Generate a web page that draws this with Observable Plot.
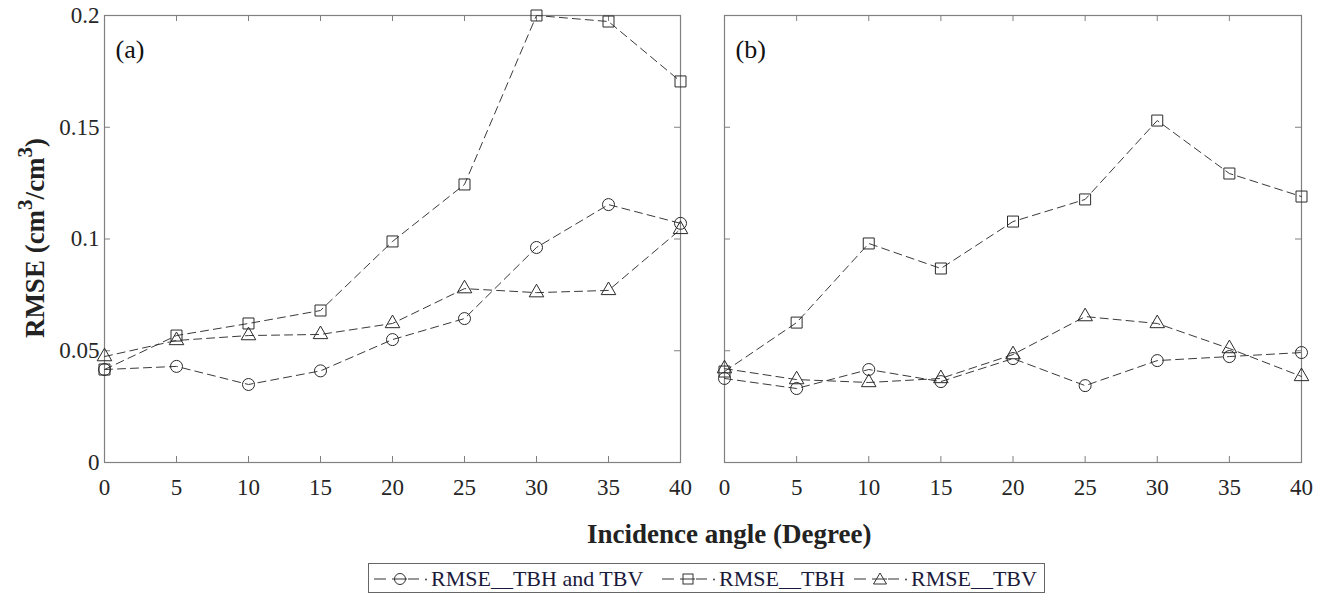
<!DOCTYPE html>
<html>
<head>
<meta charset="utf-8">
<script src="https://cdn.jsdelivr.net/npm/d3@7"></script>
<script src="https://cdn.jsdelivr.net/npm/@observablehq/plot@0.6"></script>
<style>
  html, body { margin: 0; padding: 0; background: #fff; }
  #wrap { position: relative; width: 1325px; height: 595px; overflow: hidden; font-family: "Liberation Serif", Tinos, "Times New Roman", Times, "DejaVu Serif", serif; color: #222; }
  .panel { position: absolute; top: 0; }
  .ytitle { position: absolute; left: 35px; top: 238px; transform: translate(-50%, -50%) rotate(-90deg); font-weight: bold; font-size: 27px; white-space: nowrap; }
  .ytitle sup { font-size: 21px; vertical-align: 0.55em; line-height: 0; }
  .xtitle { position: absolute; left: 587px; top: 519px; font-weight: bold; font-size: 27px; white-space: nowrap; line-height: 30px; }
  .legend { position: absolute; left: 368px; top: 563px; width: 677px; height: 30px; border: 1px solid #666; box-sizing: border-box; background: #fff; }
  .entry { position: absolute; top: 0; height: 30px; }
  .entry svg { position: absolute; top: 0; left: 0; }
  .entry span { position: absolute; top: 2px; font-size: 22px; white-space: nowrap; line-height: 26px; color: #1a1a3a; }
</style>
</head>
<body>
<div id="wrap"></div>
<script>
// ---- data ----
const angles = [0, 5, 10, 15, 20, 25, 30, 35, 40];
const yTicks = [0, 0.05, 0.1, 0.15, 0.2];
const seriesNames = ["RMSE__TBH and TBV", "RMSE__TBH", "RMSE__TBV"];
const seriesSymbols = ["circle", "square", "triangle"];
const panelLabels = ["(a)", "(b)"];

// panel (a)
const aBoth = [0.0416, 0.0430, 0.0349, 0.0410, 0.0550, 0.0644, 0.0962, 0.1154, 0.1070];
const aTBH  = [0.0416, 0.0568, 0.0622, 0.0680, 0.0989, 0.1244, 0.2000, 0.1973, 0.1705];
const aTBV  = [0.0474, 0.0546, 0.0568, 0.0573, 0.0622, 0.0778, 0.0760, 0.0770, 0.1043];
// panel (b)
const bBoth = [0.0376, 0.0331, 0.0416, 0.0362, 0.0465, 0.0344, 0.0456, 0.0474, 0.0492];
const bTBH  = [0.0407, 0.0626, 0.0980, 0.0868, 0.1078, 0.1177, 0.1530, 0.1293, 0.1190];
const bTBV  = [0.0420, 0.0371, 0.0358, 0.0376, 0.0483, 0.0653, 0.0622, 0.0510, 0.0385];

function toRows(arrs) {
  const rows = [];
  arrs.forEach((vals, s) => vals.forEach((v, i) => rows.push({x: angles[i], y: vals[i], s})));
  return rows;
}
const panelA = toRows([aBoth, aTBH, aTBV]);
const panelB = toRows([bBoth, bTBH, bTBV]);

const symR = {circle: 6, square: 6.2, triangle: 5.4};
const lineColor = "#3a3a3a";
const axisColor = "#808080";
const dash = "8,5";
const serif = "'Liberation Serif', Tinos, 'Times New Roman', Times, 'DejaVu Serif', serif";

function panel(rows, label, opts) {
  const {width, marginLeft, marginRight, showY} = opts;
  const height = 500, marginTop = 15, marginBottom = 38;
  const innerW = width - marginLeft - marginRight;
  const innerH = height - marginTop - marginBottom;
  const marks = [
    Plot.frame({stroke: axisColor, strokeWidth: 1.2}),
    Plot.tickX(angles, {x: d => d, insetTop: innerH - 6, stroke: axisColor}),
    Plot.tickX(angles, {x: d => d, insetBottom: innerH - 6, stroke: axisColor}),
    Plot.tickY(yTicks, {y: d => d, insetRight: innerW - 6, stroke: axisColor}),
    Plot.tickY(yTicks, {y: d => d, insetLeft: innerW - 6, stroke: axisColor}),
    Plot.axisX(angles, {tickSize: 0, tickPadding: 16, label: null, tickFormat: d => String(d), fill: "#262626", fontSize: 23}),
  ];
  if (showY) marks.push(Plot.axisY(yTicks, {tickSize: 0, tickPadding: 5, label: null, tickFormat: d => String(d), fill: "#262626", fontSize: 23}));
  else marks.push(Plot.axisY(yTicks, {tickSize: 0, label: null, tickFormat: () => ""}));
  seriesSymbols.forEach((sym, s) => {
    const data = rows.filter(d => d.s === s);
    marks.push(Plot.line(data, {x: "x", y: "y", stroke: lineColor, strokeWidth: 1, strokeDasharray: dash}));
    marks.push(Plot.dot(data, {x: "x", y: "y", symbol: () => sym, r: symR[sym], stroke: "#2a2a2a", fill: "none", strokeWidth: 1}));
  });
  marks.push(Plot.text([label], {text: d => d, frameAnchor: "top-left", dx: 11, dy: 34, textAnchor: "start", lineAnchor: "middle", fontSize: 26, fill: "#111"}));
  return Plot.plot({
    width, height, marginLeft, marginRight, marginTop, marginBottom,
    x: {domain: [0, 40]},
    y: {domain: [0, 0.2]},
    symbol: {type: "identity"},
    style: {fontFamily: serif, fontSize: "22px", background: "transparent", overflow: "visible"},
    marks
  });
}

const wrap = document.getElementById("wrap");
const pa = panel(panelA, panelLabels[0], {width: 700, marginLeft: 104, marginRight: 20, showY: true});
pa.classList.add("panel"); pa.style.left = "0px";
const pb = panel(panelB, panelLabels[1], {width: 625, marginLeft: 24, marginRight: 24, showY: false});
pb.classList.add("panel"); pb.style.left = "700px";
wrap.appendChild(pa);
wrap.appendChild(pb);

const yt = document.createElement("div");
yt.className = "ytitle";
yt.innerHTML = "RMSE (cm<sup>3</sup>/cm<sup>3</sup>)";
wrap.appendChild(yt);

const xt = document.createElement("div");
xt.className = "xtitle";
xt.textContent = "Incidence angle (Degree)";
wrap.appendChild(xt);

// legend
const legend = document.createElement("div");
legend.className = "legend";
const entryLeft = [4, 292, 484];
const symbolPath = {
  circle: (cx, cy) => `<circle cx="${cx}" cy="${cy}" r="5.5" fill="none" stroke="#333"/>`,
  square: (cx, cy) => `<rect x="${cx - 5}" y="${cy - 5}" width="10" height="10" fill="none" stroke="#333"/>`,
  triangle: (cx, cy) => `<path d="M${cx},${cy - 6} L${cx + 6.5},${cy + 5} L${cx - 6.5},${cy + 5} Z" fill="none" stroke="#333"/>`
};
seriesNames.forEach((name, i) => {
  const e = document.createElement("div");
  e.className = "entry";
  e.style.left = entryLeft[i] + "px";
  e.style.width = "250px";
  e.innerHTML = `<svg width="60" height="30">
      <line x1="1" y1="15" x2="13" y2="15" stroke="#333"/>
      <line x1="19" y1="15" x2="34" y2="15" stroke="#333"/>
      <line x1="35" y1="15" x2="46" y2="15" stroke="#333"/>
      <circle cx="53" cy="15.5" r="0.9" fill="#333"/>
      ${symbolPath[seriesSymbols[i]](27, 15)}
    </svg><span style="left:58px">${name}</span>`;
  legend.appendChild(e);
});
wrap.appendChild(legend);
</script>
</body>
</html>
